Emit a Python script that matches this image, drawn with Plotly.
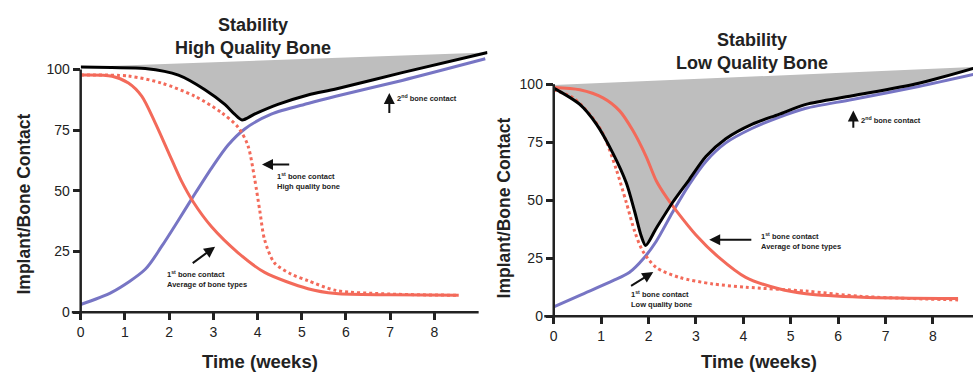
import plotly.graph_objects as go

# ---------------- data ----------------
# Left panel: High Quality Bone
hq_blue_x = [0, 0.71, 1.46, 1.83, 2.21, 2.58, 2.96, 3.33, 3.71, 4.31, 5.14, 5.77, 7.27, 9.15]
hq_blue_y = [3.2, 8.3, 17.7, 27.1, 37.9, 48.7, 59.4, 68.8, 75.5, 81.6, 86, 89, 95.5, 104.4]
hq_black_x = [0, 0.7, 1.46, 2.21, 2.81, 3.26, 3.48, 3.65, 3.93, 4.46, 5.14, 5.77, 7.27, 9.2]
hq_black_y = [101, 100.8, 100.4, 97.7, 91.7, 85.6, 81.6, 79.2, 81.6, 85.6, 89.5, 92, 98.7, 107]
hq_red_x = [0, 0.71, 1.08, 1.38, 1.68, 1.98, 2.28, 2.55, 2.96, 3.56, 4.16, 5.14, 5.77, 7, 8.55]
hq_red_y = [97.7, 97.2, 94.4, 89, 78.2, 66.1, 54, 45.3, 35.2, 24.5, 16.4, 9.7, 7.7, 7.2, 7]
hq_dot_x = [0, 1.08, 1.83, 2.58, 3.18, 3.56, 3.78, 3.93, 4.05, 4.16, 4.38, 4.76, 5.14, 5.77, 7, 8.55]
hq_dot_y = [97.7, 97.3, 94.4, 89, 82.3, 76.2, 68.8, 55.4, 41.9, 29.8, 20.4, 15.7, 13, 9, 7.5, 7]
hq_top_x = [0, 9.2]
hq_top_y = [101, 107]

# Right panel: Low Quality Bone
lq_blue_x = [0, 0.55, 1.25, 1.6, 1.88, 2.16, 2.51, 2.86, 3.21, 3.63, 4.19, 4.75, 5.32, 6.3, 7.7, 8.85]
lq_blue_y = [4, 9, 15.3, 18.9, 24.5, 32.2, 44.9, 56.8, 66.7, 74.7, 81, 85.7, 89.6, 93.4, 99, 104.2]
lq_black_x = [0, 0.55, 0.9, 1.25, 1.53, 1.71, 1.85, 1.94, 2.16, 2.51, 2.86, 3.21, 3.63, 4.19, 4.75, 5.32, 6.3, 7.7, 8.85]
lq_black_y = [98.3, 91.3, 82.8, 70.2, 57.5, 44.9, 34.3, 30.5, 37.8, 49.1, 58.9, 68.8, 76.5, 82.8, 87, 91.3, 95, 100.4, 106.8]
lq_red_x = [0, 0.55, 1.04, 1.39, 1.67, 1.95, 2.16, 2.37, 2.58, 3.0, 3.49, 4.05, 4.75, 5.32, 6.5, 8.53]
lq_red_y = [98.6, 97.6, 94.1, 88.5, 80, 68.8, 58.5, 51.5, 45.6, 35, 25.2, 16.7, 11.8, 9.7, 8.2, 7.6]
lq_dot_x = [0, 0.41, 0.76, 1.04, 1.32, 1.53, 1.71, 1.88, 2.16, 2.65, 3.35, 4.05, 5.32, 6.5, 8.53]
lq_dot_y = [97.6, 94.1, 87, 78.6, 63.2, 49.1, 36.4, 28, 21, 16.7, 13.9, 12.5, 10.8, 8.5, 7]
lq_top_x = [0, 8.85]
lq_top_y = [99.6, 107.4]

x_ticks = [0, 1, 2, 3, 4, 5, 6, 7, 8]
y_ticks = [0, 25, 50, 75, 100]

titles = ["<b>Stability</b><br><b>High Quality Bone</b>", "<b>Stability</b><br><b>Low Quality Bone</b>"]
x_title = "Time (weeks)"
y_title = "Implant/Bone Contact"

RED = "#F36A5A"
BLUE = "#7775C4"
GRAY = "#BEBEBE"
FONT = "Liberation Sans"
SM = 0.8

fig = go.Figure()


def add_panel(xa, ya, top_x, top_y, black_x, black_y, blue_x, blue_y, red_x, red_y, dot_x, dot_y):
    fig.add_trace(go.Scatter(x=top_x, y=top_y, mode="lines", line=dict(width=0, color=GRAY),
                             xaxis=xa, yaxis=ya, showlegend=False, hoverinfo="skip"))
    fig.add_trace(go.Scatter(x=black_x, y=black_y, mode="lines", line=dict(width=0, shape="spline", smoothing=SM),
                             fill="tonexty", fillcolor=GRAY, xaxis=xa, yaxis=ya, showlegend=False, hoverinfo="skip"))
    fig.add_trace(go.Scatter(x=blue_x, y=blue_y, mode="lines", line=dict(width=3, color=BLUE, shape="spline", smoothing=SM),
                             xaxis=xa, yaxis=ya, showlegend=False))
    fig.add_trace(go.Scatter(x=red_x, y=red_y, mode="lines", line=dict(width=3, color=RED, shape="spline", smoothing=SM),
                             xaxis=xa, yaxis=ya, showlegend=False))
    fig.add_trace(go.Scatter(x=dot_x, y=dot_y, mode="lines", line=dict(width=3, color=RED, dash="dot", shape="spline", smoothing=SM),
                             xaxis=xa, yaxis=ya, showlegend=False))
    fig.add_trace(go.Scatter(x=black_x, y=black_y, mode="lines", line=dict(width=3, color="black", shape="spline", smoothing=SM),
                             xaxis=xa, yaxis=ya, showlegend=False))


add_panel("x", "y", hq_top_x, hq_top_y, hq_black_x, hq_black_y, hq_blue_x, hq_blue_y, hq_red_x, hq_red_y, hq_dot_x, hq_dot_y)
add_panel("x2", "y2", lq_top_x, lq_top_y, lq_black_x, lq_black_y, lq_blue_x, lq_blue_y, lq_red_x, lq_red_y, lq_dot_x, lq_dot_y)

W, H = 973, 378
L_XDOM = [77 / W, (77 + 9.2 * 44.4) / W]
L_XR = [0, 9.2]
L_YDOM = [(H - 319) / H, (H - (319 - 108 * 2.48)) / H]
L_YR = [0, 108]
R_XDOM = [552 / W, 1.0]
R_XR = [0, 8.845]
R_YDOM = [(H - 323) / H, (H - (323 - 110 * 2.37)) / H]
R_YR = [0, 110]

tickfont = dict(family=FONT, size=14, color="#222")
ax_common = dict(showgrid=False, zeroline=False, ticks="outside", tickcolor="#222", tickwidth=2.5,
                 ticklen=7, tickfont=tickfont, showline=False, fixedrange=True)

fig.update_layout(
    width=W, height=H, margin=dict(l=0, r=0, t=0, b=0),
    paper_bgcolor="white", plot_bgcolor="white",
    font=dict(family=FONT, color="#222"),
    xaxis=dict(domain=L_XDOM, range=L_XR, tickvals=x_ticks, anchor="y", **ax_common),
    yaxis=dict(domain=L_YDOM, range=L_YR, tickvals=y_ticks, anchor="x", **ax_common),
    xaxis2=dict(domain=R_XDOM, range=R_XR, tickvals=x_ticks, anchor="y2", **ax_common),
    yaxis2=dict(domain=R_YDOM, range=R_YR, tickvals=y_ticks, anchor="x2", **ax_common),
)
fig.update_xaxes(tickprefix="<b>", ticksuffix="</b>")
fig.update_yaxes(tickprefix="<b>", ticksuffix="</b>")


def yp(v, dom, rng):
    return dom[0] + (v - rng[0]) / (rng[1] - rng[0]) * (dom[1] - dom[0])


def xp(v, dom, rng):
    return dom[0] + (v - rng[0]) / (rng[1] - rng[0]) * (dom[1] - dom[0])


shapes = []
for xd, xr, yd, yr, xend in [(L_XDOM, L_XR, L_YDOM, L_YR, 9.0), (R_XDOM, R_XR, R_YDOM, R_YR, 8.845)]:
    shapes.append(dict(type="line", xref="paper", yref="paper",
                       x0=xd[0], x1=xd[0], y0=yp(0, yd, yr), y1=yp(100, yd, yr),
                       line=dict(color="#222", width=2.5)))
    shapes.append(dict(type="line", xref="paper", yref="paper",
                       x0=xp(-0.2, xd, xr), x1=xp(xend, xd, xr), y0=yd[0], y1=yd[0],
                       line=dict(color="#222", width=2.5)))
fig.update_layout(shapes=shapes)

ann = []
ann.append(dict(text=titles[0], x=250 / W, y=1 - 37 / H, xref="paper", yref="paper", showarrow=False,
                font=dict(size=18, family=FONT, color="#222"), xanchor="center", yanchor="middle"))
ann.append(dict(text=titles[1], x=751 / W, y=1 - 53 / H, xref="paper", yref="paper", showarrow=False,
                font=dict(size=18, family=FONT, color="#222"), xanchor="center", yanchor="middle"))
for cx, cy in [(20, 208), (502, 212)]:
    ann.append(dict(text="<b>" + y_title + "</b>", x=cx / W, y=1 - cy / H, xref="paper", yref="paper",
                    showarrow=False, textangle=-90, font=dict(size=17.5, family=FONT, color="#222"),
                    xanchor="center", yanchor="middle"))
for cx in [257, 758]:
    ann.append(dict(text="<b>" + x_title + "</b>", x=cx / W, y=1 - 369 / H, xref="paper", yref="paper",
                    showarrow=False, font=dict(size=18.5, family=FONT, color="#222"),
                    xanchor="center", yanchor="middle"))

small = dict(size=7.5, family=FONT, color="#222")


def arrow(xa, ya, x, y, axv, ayv):
    ann.append(dict(text="", x=x, y=y, ax=axv, ay=ayv, xref=xa, yref=ya, axref=xa, ayref=ya,
                    showarrow=True, arrowhead=2, arrowsize=1.1, arrowwidth=2, arrowcolor="#111"))


def label(xa, ya, x, y, text):
    ann.append(dict(text=text, x=x, y=y, xref=xa, yref=ya, showarrow=False, font=small,
                    xanchor="left", yanchor="middle", align="left"))


arrow("x", "y", 6.98, 90.3, 6.98, 81.5)
label("x", "y", 7.1, 88.3, "<b>2<sup>nd</sup> bone contact</b>")
arrow("x", "y", 4.1, 60.9, 4.75, 60.9)
label("x", "y", 4.4, 54.2, "<b>1<sup>st</sup> bone contact<br>High quality bone</b>")
arrow("x", "y", 3.04, 27, 2.5, 19.8)
label("x", "y", 1.9, 13.9, "<b>1<sup>st</sup> bone contact<br>Average of bone types</b>")
arrow("x2", "y2", 6.32, 88.6, 6.32, 80.6)
label("x2", "y2", 6.45, 84.4, "<b>2<sup>nd</sup> bone contact</b>")
arrow("x2", "y2", 3.28, 32.9, 4.2, 32.9)
label("x2", "y2", 4.33, 32.3, "<b>1<sup>st</sup> bone contact<br>Average of bone types</b>")
arrow("x2", "y2", 2.1, 19, 1.6, 12.7)
label("x2", "y2", 1.58, 7.6, "<b>1<sup>st</sup> bone contact<br>Low quality bone</b>")

fig.update_layout(annotations=ann)
fig.write_html("out.html", config={"displayModeBar": False},
               post_script="document.body.style.margin='0';document.body.style.padding='0';")
